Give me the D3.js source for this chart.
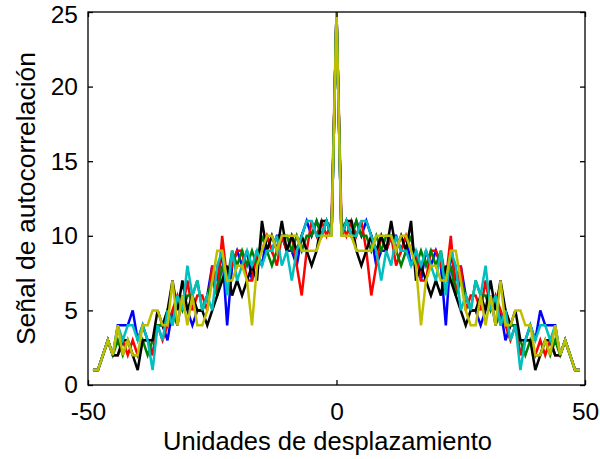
<!DOCTYPE html>
<html><head><meta charset="utf-8">
<script src="https://cdn.jsdelivr.net/npm/d3@7"></script>
<style>body{margin:0;background:#fff}svg{display:block}text{font-family:"Liberation Sans",Arial,sans-serif}</style>
</head><body><svg id="c" width="600" height="459"></svg>
<script>
const lags = d3.range(-49, 50);
const blueVals = [1,1,2,3,2,4,4,4,5,3,4,3,2,4,4,3,5,4,6,5,4,5,5,6,8,7,9,4,8,9,8,9,7,9,8,10,9,10,10,9,9,8,10,11,10,11,10,11,10,
  25,
  10,11,10,11,10,11,10,8,9,9,10,10,9,10,8,9,7,9,8,9,8,4,9,7,8,6,5,5,4,5,6,4,5,3,4,4,2,3,4,3,5,4,4,4,2,3,2,1,1];
const redVals = [1,1,2,3,2,2,3,2,3,2,3,3,2,4,3,4,5,6,5,7,5,6,6,5,8,6,10,7,8,9,9,7,7,9,9,10,9,8,10,9,10,8,6,9,11,10,11,10,11,
  25,
  11,10,11,10,11,9,6,8,10,9,10,8,9,10,9,9,7,7,9,9,8,7,10,6,8,5,6,6,5,7,5,6,5,4,3,4,2,3,3,2,3,2,3,2,2,3,2,1,1];
const greenVals = [1,1,2,3,2,3,2,3,2,2,3,2,3,4,4,5,4,6,5,6,6,7,5,6,7,6,8,7,9,8,9,8,9,8,10,9,8,9,10,10,9,10,9,10,10,11,10,11,10,
  25,
  10,11,10,11,10,10,9,10,9,10,10,9,8,9,10,8,9,8,9,8,9,7,8,6,7,6,5,7,6,6,5,6,4,5,4,4,3,2,3,2,2,3,2,3,2,3,2,1,1];
const blackVals = [1,1,2,3,2,2,3,3,2,1,3,3,3,5,4,5,7,5,7,5,6,5,5,4,5,6,7,8,6,7,6,7,8,7,11,9,10,9,11,9,10,9,10,9,8,9,11,11,10,
  25,
  10,11,11,9,8,9,10,9,10,9,11,9,10,9,11,7,8,7,6,7,6,8,7,6,5,4,5,5,6,5,7,5,7,5,4,5,3,3,3,1,2,3,3,2,2,3,2,1,1];
const cyanVals = [1,1,2,3,2,4,3,4,4,3,4,3,1,4,3,5,4,6,5,8,6,7,5,6,5,8,9,6,9,7,8,9,8,9,8,9,9,10,8,9,7,9,10,11,11,10,10,11,10,
  25,
  10,11,10,10,11,11,10,9,7,9,8,10,9,9,8,9,8,9,8,7,9,6,9,8,5,6,5,7,6,8,5,6,4,5,3,4,1,3,4,3,4,4,3,4,2,3,2,1,1];
const yellowVals = [1,1,2,3,2,4,2,3,2,2,4,4,5,5,4,4,7,4,6,4,6,4,4,5,7,9,9,7,7,8,8,7,4,8,9,10,10,9,10,10,10,10,9,9,9,9,10,10,10,
  25,
  10,10,10,9,9,9,9,10,10,10,10,9,10,10,9,8,4,7,8,8,7,7,9,9,7,5,4,4,6,4,6,4,7,4,4,5,5,4,4,2,2,3,2,4,2,3,2,1,1];
const seriesNames = ["blue","red","green","black","cyan","yellow"];
const seriesColors = ["#0000ff","#ff0000","#008000","#000000","#00bfbf","#bfbf00"];
const seriesData = [blueVals, redVals, greenVals, blackVals, cyanVals, yellowVals];
const xTicks = [-50, 0, 50];
const yTicks = [0, 5, 10, 15, 20, 25];
const xTitle = "Unidades de desplazamiento";
const yTitle = "Señal de autocorrelación";

const svg = d3.select("#c");
const L = 88, R = 585, T = 12, B = 385;
const x = d3.scaleLinear().domain([-50, 50]).range([L, R]);
const y = d3.scaleLinear().domain([0, 25]).range([B, T]);
const fs = 24.5;
const fmt = d => String(d);

svg.append("rect").attr("x",0).attr("y",0).attr("width",600).attr("height",459).attr("fill","#fff");

const line = d3.line().x((d,i)=>x(lags[i])).y(d=>y(d));
const plot = svg.append("g");
seriesData.forEach((vals, k) => {
  plot.append("path").datum(vals)
    .attr("d", line)
    .attr("fill","none")
    .attr("stroke", seriesColors[k])
    .attr("stroke-width", 2.5)
    .attr("stroke-linejoin","miter");
});

// frame
svg.append("rect").attr("x",L).attr("y",T).attr("width",R-L).attr("height",B-T)
  .attr("fill","none").attr("stroke","#000").attr("stroke-width",1.3);

function styleAxis(g){ g.select(".domain").remove(); g.selectAll("line").attr("stroke","#000").attr("stroke-width",1.3); g.selectAll("text").attr("font-size",fs).attr("fill","#000").attr("font-family","Liberation Sans, Arial, sans-serif"); }

svg.append("g").attr("transform",`translate(0,${B})`)
  .call(d3.axisBottom(x).tickValues(xTicks).tickFormat(fmt).tickSizeInner(-5).tickSizeOuter(0).tickPadding(18))
  .call(styleAxis);
svg.append("g").attr("transform",`translate(0,${T})`)
  .call(d3.axisTop(x).tickValues(xTicks).tickSizeInner(-5).tickSizeOuter(0).tickFormat(""))
  .call(styleAxis);
const yAxisG = svg.append("g").attr("transform",`translate(${L},0)`)
  .call(d3.axisLeft(y).tickValues(yTicks).tickFormat(fmt).tickSizeInner(-5).tickSizeOuter(0).tickPadding(10))
  .call(styleAxis);
// keep the top label inside the picture
yAxisG.selectAll(".tick").filter(d => d === 25).select("text").attr("y", 2.5);
svg.append("g").attr("transform",`translate(${R},0)`)
  .call(d3.axisRight(y).tickValues(yTicks).tickSizeInner(-5).tickSizeOuter(0).tickFormat(""))
  .call(styleAxis);

svg.append("text").attr("x",(L+R)/2 - 9).attr("y",450).attr("text-anchor","middle")
  .attr("font-size",25.5).attr("fill","#000").text(xTitle);
svg.append("text").attr("transform",`translate(35,${(T+B)/2}) rotate(-90)`).attr("text-anchor","middle")
  .attr("font-size",26.5).attr("fill","#000").text(yTitle);
</script></body></html>
